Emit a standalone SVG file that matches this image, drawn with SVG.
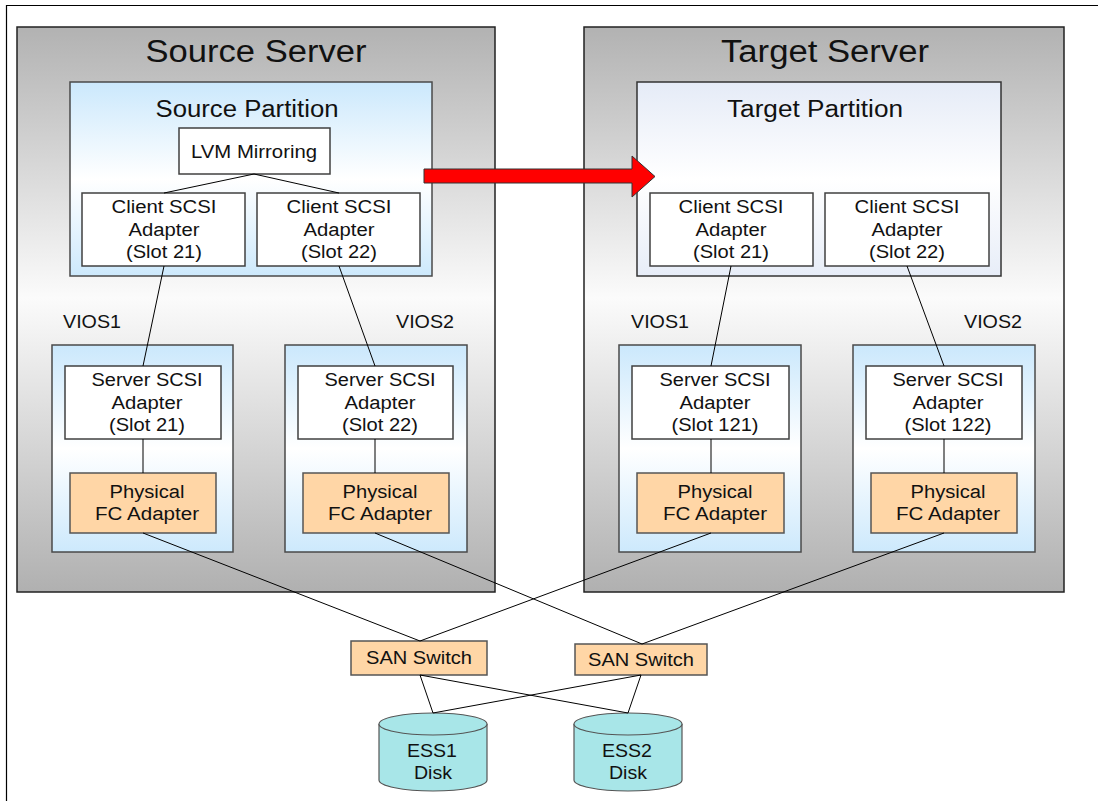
<svg xmlns="http://www.w3.org/2000/svg" width="1098" height="801" viewBox="0 0 1098 801">
<defs>
<linearGradient id="gServer" x1="0" y1="0" x2="0" y2="1">
<stop offset="0" stop-color="#b2b2b2"/>
<stop offset="0.48" stop-color="#fbfbfb"/>
<stop offset="1" stop-color="#b0b0b0"/>
</linearGradient>
<linearGradient id="gBlue" x1="0" y1="0" x2="0" y2="1">
<stop offset="0" stop-color="#cbe8fc"/>
<stop offset="0.5" stop-color="#ffffff"/>
<stop offset="1" stop-color="#cde9fc"/>
</linearGradient>
<linearGradient id="gPale" x1="0" y1="0" x2="0" y2="1">
<stop offset="0" stop-color="#e5ebf7"/>
<stop offset="0.5" stop-color="#ffffff"/>
<stop offset="1" stop-color="#e7edf8"/>
</linearGradient>
<style>
text{font-family:"Liberation Sans",Arial,sans-serif;fill:#111;text-anchor:middle}
.t18{font-size:18px}
.server{fill:url(#gServer);stroke:#222;stroke-width:1.5}
.part{fill:url(#gBlue);stroke:#4a4a4a;stroke-width:1.5}
.partT{fill:url(#gPale);stroke:#333;stroke-width:1.5}
.vios{fill:url(#gBlue);stroke:#4a4a4a;stroke-width:1.5}
.wbox{fill:#ffffff;stroke:#404040;stroke-width:1.5}
.fc{fill:#ffd6a6;stroke:#555;stroke-width:1.5}
.disk{fill:#a8e6e8;stroke:#555;stroke-width:1.2}
.conn line{stroke:#000;stroke-width:1}
</style>
</defs>
<rect width="1098" height="801" fill="#ffffff"/>
<path d="M6.5,801 V5.5 H1098" fill="none" stroke="#000" stroke-width="1.2"/>

<g id="source-server">
<rect class="server" x="17" y="27" width="478" height="565"/>
<text x="256" y="62" style="font-size:31px" textLength="221" lengthAdjust="spacingAndGlyphs">Source Server</text>
</g>
<g id="target-server">
<rect class="server" x="584" y="27" width="480" height="565"/>
<text x="825" y="62" style="font-size:31px" textLength="208" lengthAdjust="spacingAndGlyphs">Target Server</text>
</g>

<g id="source-partition">
<rect class="part" x="70" y="82" width="362" height="194"/>
<text x="247" y="117" style="font-size:23px" textLength="183" lengthAdjust="spacingAndGlyphs">Source Partition</text>
</g>
<g id="target-partition">
<rect class="partT" x="637" y="82" width="364" height="194"/>
<text x="815" y="117" style="font-size:23px" textLength="176" lengthAdjust="spacingAndGlyphs">Target Partition</text>
</g>

<g id="lvm-mirroring">
<rect class="wbox" x="179" y="128" width="151" height="46"/>
<text class="t18" x="254" y="158" textLength="126" lengthAdjust="spacingAndGlyphs">LVM Mirroring</text>
</g>

<g id="src-client-21">
<rect class="wbox" x="82" y="193" width="163" height="73"/>
<text class="t18" x="164" y="213" textLength="105" lengthAdjust="spacingAndGlyphs">Client SCSI</text>
<text class="t18" x="164" y="236" textLength="71" lengthAdjust="spacingAndGlyphs">Adapter</text>
<text class="t18" x="164" y="258" textLength="76" lengthAdjust="spacingAndGlyphs">(Slot 21)</text>
</g>
<g id="src-client-22">
<rect class="wbox" x="257" y="193" width="163" height="73"/>
<text class="t18" x="339" y="213" textLength="105" lengthAdjust="spacingAndGlyphs">Client SCSI</text>
<text class="t18" x="339" y="236" textLength="71" lengthAdjust="spacingAndGlyphs">Adapter</text>
<text class="t18" x="339" y="258" textLength="76" lengthAdjust="spacingAndGlyphs">(Slot 22)</text>
</g>
<g id="tgt-client-21">
<rect class="wbox" x="650" y="193" width="163" height="73"/>
<text class="t18" x="731" y="213" textLength="105" lengthAdjust="spacingAndGlyphs">Client SCSI</text>
<text class="t18" x="731" y="236" textLength="71" lengthAdjust="spacingAndGlyphs">Adapter</text>
<text class="t18" x="731" y="258" textLength="76" lengthAdjust="spacingAndGlyphs">(Slot 21)</text>
</g>
<g id="tgt-client-22">
<rect class="wbox" x="825" y="193" width="164" height="73"/>
<text class="t18" x="907" y="213" textLength="105" lengthAdjust="spacingAndGlyphs">Client SCSI</text>
<text class="t18" x="907" y="236" textLength="71" lengthAdjust="spacingAndGlyphs">Adapter</text>
<text class="t18" x="907" y="258" textLength="76" lengthAdjust="spacingAndGlyphs">(Slot 22)</text>
</g>

<g id="src-vios1">
<text class="t18" x="92" y="328" textLength="58" lengthAdjust="spacingAndGlyphs">VIOS1</text>
<rect class="vios" x="52" y="345" width="181" height="207"/>
</g>
<g id="src-vios2">
<text class="t18" x="425" y="328" textLength="58" lengthAdjust="spacingAndGlyphs">VIOS2</text>
<rect class="vios" x="285" y="345" width="182" height="207"/>
</g>
<g id="tgt-vios1">
<text class="t18" x="660" y="328" textLength="58" lengthAdjust="spacingAndGlyphs">VIOS1</text>
<rect class="vios" x="619" y="345" width="182" height="207"/>
</g>
<g id="tgt-vios2">
<text class="t18" x="993" y="328" textLength="58" lengthAdjust="spacingAndGlyphs">VIOS2</text>
<rect class="vios" x="853" y="345" width="182" height="207"/>
</g>

<g id="src-server-21">
<rect class="wbox" x="65" y="366" width="156" height="73"/>
<text class="t18" x="147" y="386" textLength="111" lengthAdjust="spacingAndGlyphs">Server SCSI</text>
<text class="t18" x="147" y="409" textLength="71" lengthAdjust="spacingAndGlyphs">Adapter</text>
<text class="t18" x="147" y="431" textLength="76" lengthAdjust="spacingAndGlyphs">(Slot 21)</text>
</g>
<g id="src-server-22">
<rect class="wbox" x="298" y="366" width="155" height="73"/>
<text class="t18" x="380" y="386" textLength="111" lengthAdjust="spacingAndGlyphs">Server SCSI</text>
<text class="t18" x="380" y="409" textLength="71" lengthAdjust="spacingAndGlyphs">Adapter</text>
<text class="t18" x="380" y="431" textLength="76" lengthAdjust="spacingAndGlyphs">(Slot 22)</text>
</g>
<g id="tgt-server-121">
<rect class="wbox" x="632" y="366" width="157" height="73"/>
<text class="t18" x="715" y="386" textLength="111" lengthAdjust="spacingAndGlyphs">Server SCSI</text>
<text class="t18" x="715" y="409" textLength="71" lengthAdjust="spacingAndGlyphs">Adapter</text>
<text class="t18" x="715" y="431" textLength="87" lengthAdjust="spacingAndGlyphs">(Slot 121)</text>
</g>
<g id="tgt-server-122">
<rect class="wbox" x="866" y="366" width="156" height="73"/>
<text class="t18" x="948" y="386" textLength="111" lengthAdjust="spacingAndGlyphs">Server SCSI</text>
<text class="t18" x="948" y="409" textLength="71" lengthAdjust="spacingAndGlyphs">Adapter</text>
<text class="t18" x="948" y="431" textLength="87" lengthAdjust="spacingAndGlyphs">(Slot 122)</text>
</g>

<g id="src-fc1">
<rect class="fc" x="70" y="473" width="146" height="60"/>
<text class="t18" x="147" y="498" textLength="75" lengthAdjust="spacingAndGlyphs">Physical</text>
<text class="t18" x="147" y="520" textLength="104" lengthAdjust="spacingAndGlyphs">FC Adapter</text>
</g>
<g id="src-fc2">
<rect class="fc" x="303" y="473" width="146" height="60"/>
<text class="t18" x="380" y="498" textLength="75" lengthAdjust="spacingAndGlyphs">Physical</text>
<text class="t18" x="380" y="520" textLength="104" lengthAdjust="spacingAndGlyphs">FC Adapter</text>
</g>
<g id="tgt-fc1">
<rect class="fc" x="637" y="473" width="147" height="60"/>
<text class="t18" x="715" y="498" textLength="75" lengthAdjust="spacingAndGlyphs">Physical</text>
<text class="t18" x="715" y="520" textLength="104" lengthAdjust="spacingAndGlyphs">FC Adapter</text>
</g>
<g id="tgt-fc2">
<rect class="fc" x="871" y="473" width="146" height="60"/>
<text class="t18" x="948" y="498" textLength="75" lengthAdjust="spacingAndGlyphs">Physical</text>
<text class="t18" x="948" y="520" textLength="104" lengthAdjust="spacingAndGlyphs">FC Adapter</text>
</g>

<g id="san-switch-1">
<rect class="fc" x="351" y="641" width="136" height="34"/>
<text class="t18" x="419" y="664" textLength="106" lengthAdjust="spacingAndGlyphs">SAN Switch</text>
</g>
<g id="san-switch-2">
<rect class="fc" x="575" y="644" width="132" height="31"/>
<text class="t18" x="641" y="666" textLength="106" lengthAdjust="spacingAndGlyphs">SAN Switch</text>
</g>

<g id="ess1-disk">
<path class="disk" d="M379,724 V780 A54,11 0 0,0 487,780 V724"/>
<ellipse class="disk" cx="433" cy="724" rx="54" ry="11"/>
<text class="t18" x="432" y="757" textLength="50" lengthAdjust="spacingAndGlyphs">ESS1</text>
<text class="t18" x="433" y="779" textLength="38" lengthAdjust="spacingAndGlyphs">Disk</text>
</g>
<g id="ess2-disk">
<path class="disk" d="M574,724 V780 A54,11 0 0,0 682,780 V724"/>
<ellipse class="disk" cx="628" cy="724" rx="54" ry="11"/>
<text class="t18" x="627" y="757" textLength="50" lengthAdjust="spacingAndGlyphs">ESS2</text>
<text class="t18" x="628" y="779" textLength="38" lengthAdjust="spacingAndGlyphs">Disk</text>
</g>

<g id="connectors" class="conn">
<line x1="254" y1="174" x2="164" y2="193"/>
<line x1="254" y1="174" x2="339" y2="193"/>
<line x1="164" y1="266" x2="143" y2="366"/>
<line x1="339" y1="266" x2="375" y2="366"/>
<line x1="731" y1="266" x2="711" y2="366"/>
<line x1="907" y1="266" x2="944" y2="366"/>
<line x1="143" y1="439" x2="143" y2="473"/>
<line x1="375" y1="439" x2="375" y2="473"/>
<line x1="711" y1="439" x2="711" y2="473"/>
<line x1="944" y1="439" x2="944" y2="473"/>
<line x1="143" y1="533" x2="420" y2="641"/>
<line x1="375" y1="533" x2="642" y2="644"/>
<line x1="711" y1="533" x2="420" y2="641"/>
<line x1="944" y1="533" x2="642" y2="644"/>
<line x1="420" y1="675" x2="433" y2="713"/>
<line x1="420" y1="675" x2="628" y2="713"/>
<line x1="641" y1="675" x2="433" y2="713"/>
<line x1="641" y1="675" x2="628" y2="713"/>
</g>

<g id="migration-arrow">
<polygon points="424,169 632,169 632,156 655,176.5 632,197 632,183 424,183" fill="#ff0000" stroke="#333" stroke-width="1"/>
</g>
</svg>
